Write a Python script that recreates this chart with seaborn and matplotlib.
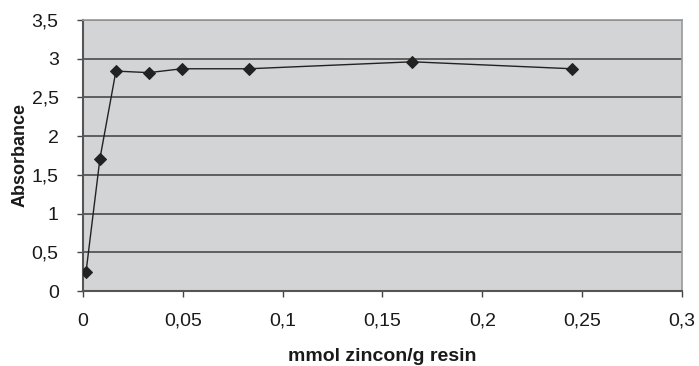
import matplotlib
matplotlib.use("Agg")
import matplotlib.pyplot as plt
import seaborn as sns
import pandas as pd
from matplotlib.ticker import FuncFormatter, MultipleLocator

x_vals = [0.0015, 0.0085, 0.0165, 0.033, 0.0495, 0.083, 0.165, 0.245]
absorbance = [0.24, 1.71, 2.84, 2.82, 2.87, 2.87, 2.96, 2.87]

df = pd.DataFrame({"x": x_vals, "y": absorbance})

sns.set_style("white")
plt.rcParams["font.family"] = ["Liberation Sans", "DejaVu Sans"]

fig = plt.figure(figsize=(6.99, 3.66), dpi=100)
ax = fig.add_axes([0.1187, 0.2049, 0.857, 0.7405])
ax.set_facecolor("#d3d4d6")

sns.lineplot(data=df, x="x", y="y", ax=ax, color="#222222", linewidth=1.0,
             marker="D", markersize=6.5, markeredgecolor="#222222",
             markerfacecolor="#222222", zorder=3)

ax.set_xlim(0, 0.3)
ax.set_ylim(0, 3.5)
ax.xaxis.set_major_locator(MultipleLocator(0.05))
ax.yaxis.set_major_locator(MultipleLocator(0.5))

def fmt(v, pos):
    s = ("%.2f" % v).rstrip("0").rstrip(".")
    return s.replace(".", ",")

ax.xaxis.set_major_formatter(FuncFormatter(fmt))
ax.yaxis.set_major_formatter(FuncFormatter(fmt))

ax.yaxis.grid(True, color="#3f3f3f", linewidth=1.1)
ax.xaxis.grid(False)
ax.set_axisbelow(True)

for side in ["left", "bottom"]:
    ax.spines[side].set_color("#555555")
    ax.spines[side].set_linewidth(1.5)
for side in ["top", "right"]:
    ax.spines[side].set_color("#9a9a9a")
    ax.spines[side].set_linewidth(1.2)

ax.tick_params(axis="both", which="major", direction="out", length=4.5,
               width=1, color="#444444", labelsize=14, labelcolor="#1a1a1a",
               bottom=True, left=True)
ax.tick_params(axis="x", pad=11)
ax.tick_params(axis="y", pad=13)

ax.set_xlabel("mmol zincon/g resin", fontsize=14, fontweight="bold",
              labelpad=13, color="#1a1a1a")
ax.set_ylabel("Absorbance", fontsize=13, fontweight="bold", labelpad=2,
              color="#1a1a1a")

fig.savefig("out.png", dpi=100)
